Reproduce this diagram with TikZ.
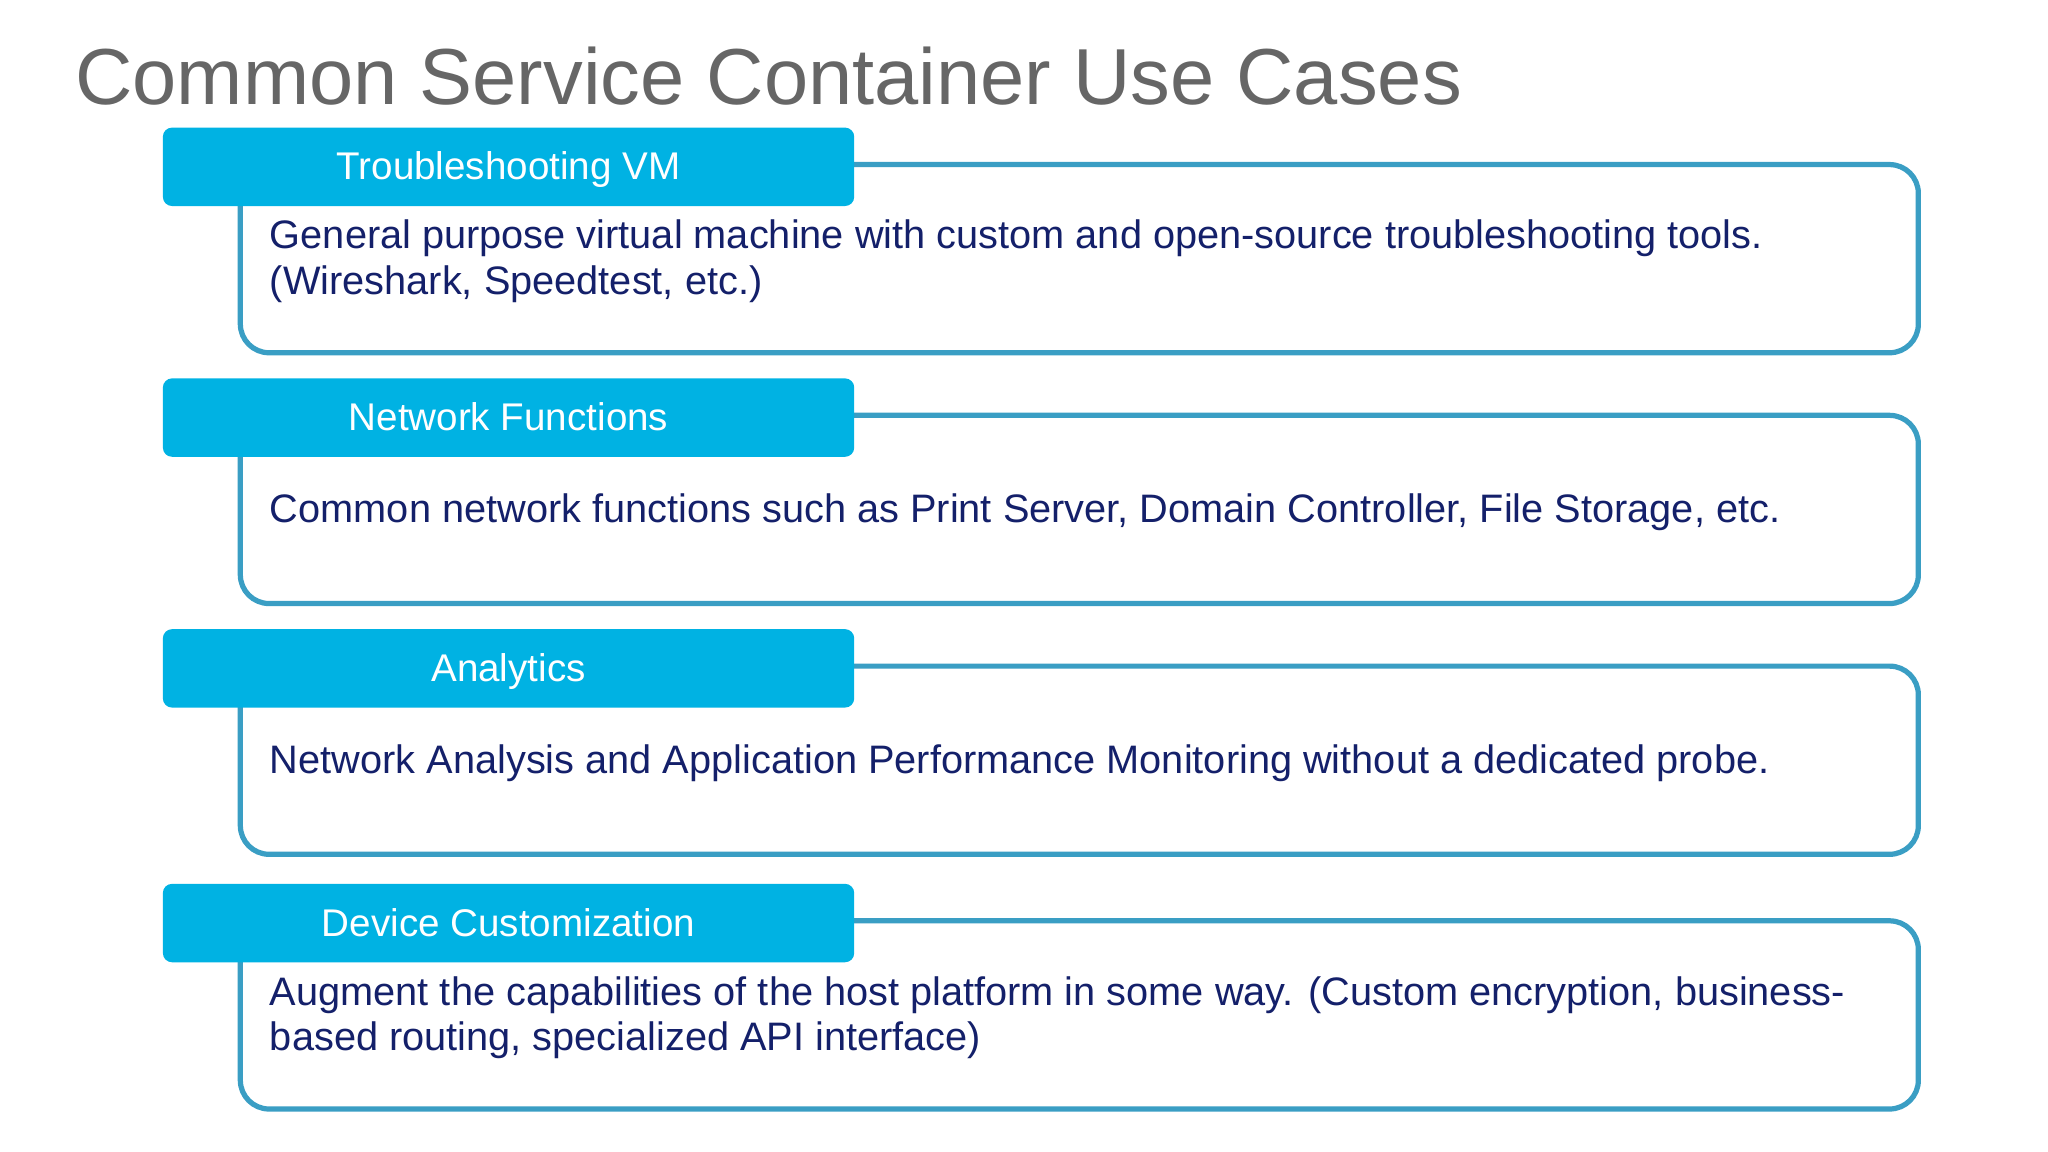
\documentclass[tikz,border=0pt]{standalone}
\usepackage{fontspec}
\setmainfont{Liberation Sans}
\definecolor{headblue}{HTML}{00B2E3}
\definecolor{frameblue}{HTML}{3A9EC4}
\definecolor{textnavy}{HTML}{14206A}
\definecolor{titlegray}{HTML}{666666}
\begin{document}
\begin{tikzpicture}[x=0.01cm,y=-0.01cm]
\tikzset{frame/.style = {draw=frameblue,line width=0.04cm,rounded corners=0.22cm,fill=white}}
\tikzset{head/.style = {fill=headblue,rounded corners=0.07cm,text=white,font=\fontsize{8.4}{10}\selectfont,minimum width=5.29cm,minimum height=0.6cm}}
\tikzset{body/.style = {text=textnavy,font=\fontsize{8.65}{9.8}\selectfont,align=left,anchor=west,inner sep=0pt}}
\useasboundingbox (0,0) rectangle (1568,882);
% title
\node[anchor=base west,inner sep=0pt,text=titlegray,font=\fontsize{17.3}{20}\selectfont] (title) at (57,80) {Common Service Container Use Cases};
% use cases
\foreach \i/\y/\hd/\tx in {
  1/96/{Troubleshooting VM}/{General purpose virtual machine with custom and open-source troubleshooting tools.\\(Wireshark, Speedtest, etc.)},
  2/288/{Network Functions}/{Common network functions such as Print Server, Domain Controller, File Storage, etc.},
  3/480/{Analytics}/{Network Analysis and Application Performance Monitoring without a dedicated probe.},
  4/675/{Device Customization}/{Augment the capabilities of the host platform in some way. (Custom encryption, business-\\based routing, specialized API interface)}}
{
  \node[frame,minimum width=12.84cm,minimum height=1.44cm,anchor=north west] (box\i) at (182,\y+28) {};
  \node[head,anchor=north west,text depth=0pt,text height=0.2cm,yshift=-0.01cm] (head\i) at (124,\y) {\hd};
  \node[body] (text\i) at (206,\y+104) {\tx};
}
\end{tikzpicture}
\end{document}
